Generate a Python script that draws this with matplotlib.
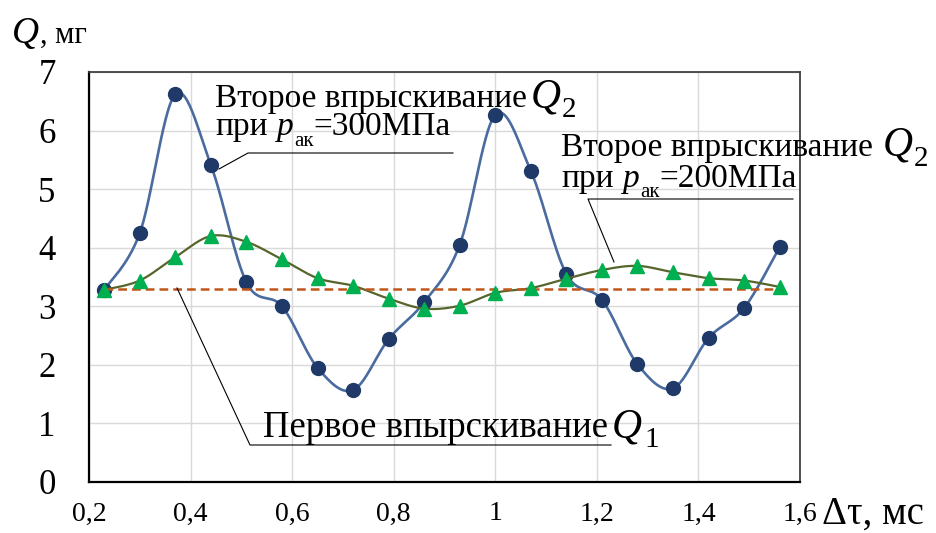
import matplotlib.pyplot as plt
import numpy as np
from matplotlib.lines import Line2D

plt.rcParams['font.family'] = ['Liberation Serif', 'DejaVu Serif']

# data
dt = [0.23, 0.30, 0.37, 0.44, 0.51, 0.58, 0.65, 0.72, 0.79, 0.86,
      0.93, 1.00, 1.07, 1.14, 1.21, 1.28, 1.35, 1.42, 1.49, 1.56]
q2_300 = [3.28, 4.25, 6.62, 5.41, 3.41, 3.00, 1.95, 1.57, 2.44, 3.07,
          4.05, 6.27, 5.31, 3.55, 3.11, 2.01, 1.60, 2.46, 2.97, 4.01]
q2_200 = [3.28, 3.44, 3.84, 4.20, 4.10, 3.80, 3.48, 3.35, 3.13, 2.96,
          3.01, 3.23, 3.31, 3.47, 3.62, 3.69, 3.58, 3.48, 3.44, 3.33]
q1 = 3.30

xticks = [0.2, 0.4, 0.6, 0.8, 1.0, 1.2, 1.4, 1.6]
xlabels = ['0,2', '0,4', '0,6', '0,8', '1', '1,2', '1,4', '1,6']
yticks = [0, 1, 2, 3, 4, 5, 6, 7]

W, H = 936, 533


def smooth(x, y, n=30):
    # excel-like smoothed line (bezier through the points)
    p = np.column_stack([x, y]).astype(float)
    p = np.vstack([p[0], p, p[-1]])
    t = np.linspace(0, 1, n)[:, None]
    segs = []
    for i in range(1, len(p) - 2):
        p0, p1, p2, p3 = p[i - 1], p[i], p[i + 1], p[i + 2]
        c1 = p1 + (p2 - p0) / 6
        c2 = p2 - (p3 - p1) / 6
        b = ((1 - t) ** 3 * p1 + 3 * (1 - t) ** 2 * t * c1
             + 3 * (1 - t) * t ** 2 * c2 + t ** 3 * p2)
        segs.append(b)
    s = np.vstack(segs)
    return s[:, 0], s[:, 1]


fig = plt.figure(figsize=(W / 100, H / 100), dpi=100)
ax = fig.add_axes([89 / W, 1 - 482 / H, 711 / W, 410 / H])
ax.set_xlim(0.2, 1.6)
ax.set_ylim(0, 7)
ax.set_xticks(xticks)
ax.set_xticklabels(xlabels)
ax.set_yticks(yticks)
ax.tick_params(axis='x', length=0, pad=14, labelsize=20)
ax.tick_params(axis='y', length=0, pad=24, labelsize=25)
ax.grid(color='#D9D9D9', lw=1)
ax.set_axisbelow(True)
for s in ['top', 'right']:
    ax.spines[s].set_color('#404040')
    ax.spines[s].set_linewidth(1.3)
for s in ['left', 'bottom']:
    ax.spines[s].set_color('black')
    ax.spines[s].set_linewidth(1.6)

ax.plot(*smooth(dt, q2_300), color='#4A6B9F', lw=1.9, zorder=3)
ax.plot(dt, q2_300, 'o', ms=10, color='#1F3A68', zorder=4)
ax.plot(*smooth(dt, q2_200), color='#56652B', lw=1.6, zorder=5)
ax.plot(dt, q2_200, '^', ms=10, color='#00B050', zorder=6)
ax.plot([dt[0], dt[-1]], [q1, q1], color='#C0561A', lw=1.8,
        dashes=(3.5, 2), zorder=5)

renderer = fig.canvas.get_renderer()


def put(x, y, s, **kw):
    return fig.text(x / W, 1 - y / H, s, va='baseline', **kw)


def after(prev, s, y, dx=0, **kw):
    bb = prev.get_window_extent(renderer)
    return fig.text((bb.x1 + dx) / W, 1 - y / H, s, va='baseline', **kw)


def leader(xs, ys):
    fig.add_artist(Line2D([x / W for x in xs], [1 - y / H for y in ys],
                          color='black', lw=0.8, transform=fig.transFigure))


# axis titles
q = put(12, 43, 'Q', size=27, style='italic')
after(q, ', мг', 43, dx=1, size=22)
d = put(822, 524, 'Δτ, мс', size=28)

# 300 MPa label
t = put(215, 107, 'Второе впрыскивание', size=24)
q = after(t, 'Q', 107, dx=4, size=30, style='italic')
after(q, '2', 117, dx=1, size=21)
t = put(215, 135, 'при', size=24)
p = after(t, 'p', 135, dx=9, size=24, style='italic')
a = after(p, 'ак', 146, dx=1, size=15)
after(a, '=300МПа', 135, dx=0, size=24)
leader([453, 248, 219], [153, 153, 169])

# 200 MPa label
t = put(561, 156, 'Второе впрыскивание', size=24)
q = after(t, 'Q', 156, dx=10, size=30, style='italic')
after(q, '2', 166, dx=1, size=21)
t = put(561, 187, 'при', size=24)
p = after(t, 'p', 187, dx=9, size=24, style='italic')
a = after(p, 'ак', 197, dx=1, size=15)
after(a, '=200МПа', 187, dx=0, size=24)
leader([793, 588, 614], [199, 199, 262])

# first injection label (spelling as in the original)
t = put(263, 437, 'Первое впырскивание', size=26.5)
q = after(t, 'Q', 437, dx=4, size=30, style='italic')
after(q, '1', 447, dx=2, size=21)
leader([611, 250, 177], [445, 445, 288])

fig.savefig('out.png', dpi=100)
